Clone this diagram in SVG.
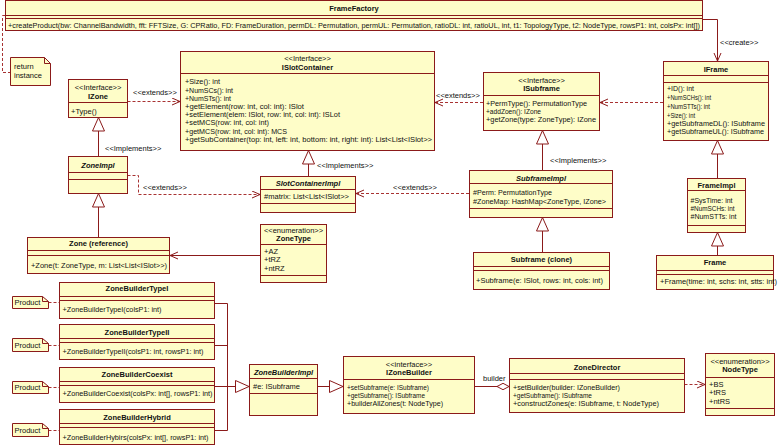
<svg xmlns="http://www.w3.org/2000/svg" width="778" height="446" viewBox="0 0 778 446">
<defs>
<style>
.box{fill:#FEFDC8;stroke:#8B1A1A;stroke-width:1}
.note{fill:#FEFDC8;stroke:#8B1A1A;stroke-width:1}
.sep{stroke:#8B1A1A;stroke-width:1;fill:none}
text{font-family:"Liberation Sans",Arial,sans-serif;font-size:7.5px;fill:#111}
.t{font-weight:bold;text-anchor:middle}
.ti{font-weight:bold;font-style:italic;text-anchor:middle}
.st{text-anchor:middle}
.ln{fill:none;stroke:#8B1A1A;stroke-width:1}
.dl{fill:none;stroke:#A83232;stroke-width:1;stroke-dasharray:3 2}
</style>
<marker id="open" markerUnits="userSpaceOnUse" markerWidth="10" markerHeight="10" refX="8" refY="4" orient="auto">
<path d="M0,0.5 L8,4 L0,7.5" fill="none" stroke="#8B1A1A" stroke-width="1"/>
</marker>
<marker id="tri" markerUnits="userSpaceOnUse" markerWidth="16" markerHeight="14" refX="14" refY="6.5" orient="auto">
<path d="M0.5,0.5 L14,6.5 L0.5,12.5 Z" fill="#FFFFFF" stroke="#8B1A1A" stroke-width="1"/>
</marker>
<marker id="dia" markerUnits="userSpaceOnUse" markerWidth="14" markerHeight="10" refX="0.5" refY="4" orient="auto">
<path d="M0.5,4 L6.5,0.8 L12.5,4 L6.5,7.2 Z" fill="#FFFFFF" stroke="#8B1A1A" stroke-width="1"/>
</marker>
</defs>

<g id="connectors">
<path class="ln" d="M703,19.5 L717.5,19.5 L717.5,61" marker-end="url(#open)"/>
<text x="720" y="44.5">&lt;&lt;create&gt;&gt;</text>
<path class="dl" d="M5,15.5 L2.5,15.5 L2.5,72.5 L10.5,72.5"/>
<path class="dl" d="M127.5,101.5 L180,101.5" marker-end="url(#open)"/>
<text x="133" y="95">&lt;&lt;extends&gt;&gt;</text>
<path class="dl" d="M483,102.5 L435,102.5" marker-end="url(#open)"/>
<text x="436" y="97.5">&lt;&lt;extends&gt;&gt;</text>
<path class="dl" d="M663,102.5 L600,102.5" marker-end="url(#open)"/>
<path class="ln" d="M98.5,156 L98.5,117.5" marker-end="url(#tri)"/>
<text x="105" y="150.5">&lt;&lt;Implements&gt;&gt;</text>
<path class="ln" d="M98.5,237 L98.5,193.5" marker-end="url(#tri)"/>
<path class="dl" d="M127.5,175.5 L138.5,175.5 L138.5,194.5 L260,194.5" marker-end="url(#open)"/>
<text x="143" y="189.5">&lt;&lt;extends&gt;&gt;</text>
<path class="ln" d="M260,255.5 L170,255.5" marker-end="url(#open)"/>
<path class="ln" d="M308.5,176 L308.5,150.5" marker-end="url(#tri)"/>
<text x="317" y="168">&lt;&lt;Implements&gt;&gt;</text>
<path class="dl" d="M469,193.5 L356,193.5" marker-end="url(#open)"/>
<text x="393" y="189.8">&lt;&lt;extends&gt;&gt;</text>
<path class="ln" d="M542.5,170 L542.5,130.5" marker-end="url(#tri)"/>
<text x="550" y="163.2">&lt;&lt;Implements&gt;&gt;</text>
<path class="ln" d="M542.5,252 L542.5,217.5" marker-end="url(#tri)"/>
<path class="ln" d="M717.5,178 L717.5,140.5" marker-end="url(#tri)"/>
<path class="ln" d="M717.5,255 L717.5,232.5" marker-end="url(#tri)"/>
<path class="dl" d="M48.5,302.5 L59,302.5"/>
<path class="dl" d="M48.5,345.5 L59,345.5"/>
<path class="dl" d="M48.5,387.5 L59,387.5"/>
<path class="dl" d="M48.5,430.5 L59,430.5"/>
<path class="ln" d="M214.5,303.5 L227.5,303.5 L227.5,430.5 L214.5,430.5 M214.5,345.5 L227.5,345.5"/>
<path class="ln" d="M214.5,386.5 L249,386.5" marker-end="url(#tri)"/>
<path class="ln" d="M317.5,386.5 L343,386.5" marker-end="url(#tri)"/>
<path class="ln" d="M509,386.5 L474.5,386.5" marker-start="url(#dia)"/>
<text x="483" y="381">builder</text>
<path class="dl" d="M684.5,384.5 L705,384.5" marker-end="url(#open)"/>
</g>

<g id="FrameFactory">
<rect class="box" x="5.5" y="0.5" width="697" height="30"/>
<path class="sep" d="M5.5,15.5 H702.5 M5.5,18.5 H702.5"/>
<text class="t" x="354" y="10.5">FrameFactory</text>
<text x="8" y="27.5" textLength="692" lengthAdjust="spacingAndGlyphs">+createProduct(bw: ChannelBandwidth, fft: FFTSize, G: CPRatio, FD: FrameDuration, permDL: Permutation, permUL: Permutation, ratioDL: int, ratioUL, int, t1: TopologyType, t2: NodeType, rowsP1: int, colsPx: int[])</text>
</g>

<g id="note-return">
<path class="note" d="M10.5,57.5 L44.5,57.5 L50.5,63.5 L50.5,85.5 L10.5,85.5 Z"/>
<path class="sep" d="M44.5,57.5 L44.5,63.5 L50.5,63.5"/>
<text x="14" y="68.5">return</text>
<text x="14" y="77.5">instance</text>
</g>

<g id="IZone">
<rect class="box" x="68.5" y="79.5" width="59" height="38"/>
<path class="sep" d="M68.5,102.5 H127.5"/>
<text class="st" x="98" y="89.5">&lt;&lt;Interface&gt;&gt;</text>
<text class="t" x="98" y="98.5">IZone</text>
<text x="71" y="113.5">+Type()</text>
</g>

<g id="ZoneImpl">
<rect class="box" x="68.5" y="156.5" width="59" height="37"/>
<path class="sep" d="M68.5,172.5 H127.5 M68.5,179.5 H127.5"/>
<text class="ti" x="98" y="167.5">ZoneImpl</text>
</g>

<g id="ZoneReference">
<rect class="box" x="27.5" y="237.5" width="142" height="36"/>
<path class="sep" d="M27.5,250.5 H169.5 M27.5,255.5 H169.5"/>
<text class="t" x="98.5" y="245.8">Zone (reference)</text>
<text x="31" y="267.5" textLength="136" lengthAdjust="spacingAndGlyphs">+Zone(t: ZoneType, m: List&lt;List&lt;ISlot&gt;&gt;)</text>
</g>

<g id="ZoneType">
<rect class="box" x="260.5" y="224.5" width="66" height="58"/>
<path class="sep" d="M260.5,244.5 H326.5 M260.5,275.5 H326.5"/>
<text class="st" x="293.5" y="232.5">&lt;&lt;enumeration&gt;&gt;</text>
<text class="t" x="293.5" y="240.5">ZoneType</text>
<text x="264" y="254">+AZ</text>
<text x="264" y="262.3">+tRZ</text>
<text x="264" y="270.5">+ntRZ</text>
</g>

<g id="ISlotContainer">
<rect class="box" x="180.5" y="51.5" width="254" height="99"/>
<path class="sep" d="M180.5,73.5 H434.5"/>
<text class="st" x="307.5" y="60.5">&lt;&lt;Interface&gt;&gt;</text>
<text class="t" x="307.5" y="69.5">ISlotContainer</text>
<text x="185" y="84.2" textLength="35" lengthAdjust="spacingAndGlyphs">+Size(): int</text>
<text x="185" y="92.5" textLength="48" lengthAdjust="spacingAndGlyphs">+NumSCs(): int</text>
<text x="185" y="100.7" textLength="46" lengthAdjust="spacingAndGlyphs">+NumSTs(): int</text>
<text x="185" y="108.9" textLength="119" lengthAdjust="spacingAndGlyphs">+getElement(row: int, col: int): ISlot</text>
<text x="185" y="117.2" textLength="155" lengthAdjust="spacingAndGlyphs">+setElement(elem: ISlot, row: int, col: int): ISLot</text>
<text x="185" y="125.4" textLength="84" lengthAdjust="spacingAndGlyphs">+setMCS(row: int, col: int)</text>
<text x="185" y="133.6" textLength="102" lengthAdjust="spacingAndGlyphs">+getMCS(row: int, col: int): MCS</text>
<text x="185" y="141.9" textLength="247" lengthAdjust="spacingAndGlyphs">+getSubContainer(top: int, left: int, bottom: int, right: int): List&lt;List&lt;ISlot&gt;&gt;</text>
</g>

<g id="ISubframe">
<rect class="box" x="483.5" y="72.5" width="116" height="58"/>
<path class="sep" d="M483.5,95.5 H599.5"/>
<text class="st" x="541.5" y="82.5">&lt;&lt;Interface&gt;&gt;</text>
<text class="t" x="541.5" y="90.8">ISubframe</text>
<text x="486" y="105.8" textLength="101" lengthAdjust="spacingAndGlyphs">+PermType(): PermutationType</text>
<text x="486" y="113.5" textLength="55" lengthAdjust="spacingAndGlyphs">+addZoen(): IZone</text>
<text x="486" y="121.8" textLength="110" lengthAdjust="spacingAndGlyphs">+getZone(type: ZoneType): IZone</text>
</g>

<g id="IFrame">
<rect class="box" x="663.5" y="61.5" width="105" height="79"/>
<path class="sep" d="M663.5,75.5 H768.5 M663.5,82.5 H768.5"/>
<text class="t" x="716" y="71.8">IFrame</text>
<text x="667" y="90.8" textLength="27" lengthAdjust="spacingAndGlyphs">+ID(): int</text>
<text x="667" y="99.8" textLength="44" lengthAdjust="spacingAndGlyphs">+NumSCHs(): int</text>
<text x="667" y="108.5" textLength="43" lengthAdjust="spacingAndGlyphs">+NumSTTs(): int</text>
<text x="667" y="117.5" textLength="28" lengthAdjust="spacingAndGlyphs">+Size(): int</text>
<text x="667" y="125.8" textLength="98" lengthAdjust="spacingAndGlyphs">+getSubframeDL(): ISubframe</text>
<text x="667" y="134.2" textLength="97" lengthAdjust="spacingAndGlyphs">+getSubframeUL(): ISubframe</text>
</g>

<g id="FrameImpl">
<rect class="box" x="687.5" y="178.5" width="58" height="54"/>
<path class="sep" d="M687.5,190.5 H745.5 M687.5,225.5 H745.5"/>
<text class="t" x="716.5" y="187.5">FrameImpl</text>
<text x="690.5" y="202.5" textLength="42" lengthAdjust="spacingAndGlyphs">#SysTime: int</text>
<text x="690.5" y="210.8" textLength="44" lengthAdjust="spacingAndGlyphs">#NumSCHs: int</text>
<text x="690.5" y="219.2" textLength="46" lengthAdjust="spacingAndGlyphs">#NumSTTs: int</text>
</g>

<g id="Frame">
<rect class="box" x="656.5" y="255.5" width="117" height="34"/>
<path class="sep" d="M656.5,270.5 H773.5 M656.5,274.5 H773.5"/>
<text class="t" x="715" y="265.2">Frame</text>
<text x="660" y="284">+Frame(time: int, schs: int, stts: int)</text>
</g>

<g id="SubframeImpl">
<rect class="box" x="469.5" y="170.5" width="143" height="47"/>
<path class="sep" d="M469.5,183.5 H612.5 M469.5,208.5 H612.5"/>
<text class="ti" x="541" y="180.8">SubframeImpl</text>
<text x="473" y="195.2" textLength="79" lengthAdjust="spacingAndGlyphs">#Perm: PermutationType</text>
<text x="473" y="203.5" textLength="133" lengthAdjust="spacingAndGlyphs">#ZoneMap: HashMap&lt;ZoneType, IZone&gt;</text>
</g>

<g id="SubframeClone">
<rect class="box" x="473.5" y="252.5" width="136" height="37"/>
<path class="sep" d="M473.5,266.5 H609.5 M473.5,270.5 H609.5"/>
<text class="t" x="541.5" y="261.8">Subframe (clone)</text>
<text x="476" y="283">+Subframe(e: ISlot, rows: int, cols: int)</text>
</g>

<g id="SlotContainerImpl">
<rect class="box" x="260.5" y="176.5" width="95" height="36"/>
<path class="sep" d="M260.5,189.5 H355.5 M260.5,203.5 H355.5"/>
<text class="ti" x="308" y="185.8">SlotContainerImpl</text>
<text x="264" y="199.2" textLength="85" lengthAdjust="spacingAndGlyphs">#matrix: List&lt;List&lt;ISlot&gt;&gt;</text>
</g>

<g id="ZoneBuilderTypeI">
<rect class="box" x="59.5" y="282.5" width="155" height="36"/>
<path class="sep" d="M59.5,296.5 H214.5 M59.5,300.5 H214.5"/>
<text class="t" x="137" y="290.5">ZoneBuilderTypeI</text>
<text x="62.5" y="311.5" textLength="99" lengthAdjust="spacingAndGlyphs">+ZoneBuilderTypeI(colsP1: int)</text>
</g>
<g id="ZoneBuilderTypeII">
<rect class="box" x="59.5" y="324.5" width="155" height="35"/>
<path class="sep" d="M59.5,338.5 H214.5 M59.5,342.5 H214.5"/>
<text class="t" x="137" y="334.5">ZoneBuilderTypeII</text>
<text x="62.5" y="353.5" textLength="141" lengthAdjust="spacingAndGlyphs">+ZoneBuilderTypeII(colsP1: int, rowsP1: int)</text>
</g>
<g id="ZoneBuilderCoexist">
<rect class="box" x="59.5" y="367.5" width="155" height="35"/>
<path class="sep" d="M59.5,381.5 H214.5 M59.5,385.5 H214.5"/>
<text class="t" x="137" y="376.5">ZoneBuilderCoexist</text>
<text x="62.5" y="395.5" textLength="150" lengthAdjust="spacingAndGlyphs">+ZoneBuilderCoexist(colsPx: int[], rowsP1: int)</text>
</g>
<g id="ZoneBuilderHybrid">
<rect class="box" x="59.5" y="409.5" width="155" height="35"/>
<path class="sep" d="M59.5,423.5 H214.5 M59.5,427.5 H214.5"/>
<text class="t" x="137" y="419.5">ZoneBuilderHybrid</text>
<text x="62.5" y="439.5" textLength="146" lengthAdjust="spacingAndGlyphs">+ZoneBuilderHybirs(colsPx: int[], rowsP1: int)</text>
</g>

<g id="note-product-1">
<path class="note" d="M12.5,296.5 L42.5,296.5 L48.5,301.5 L48.5,308.5 L12.5,308.5 Z"/>
<path class="sep" d="M42.5,296.5 L42.5,301.5 L48.5,301.5"/>
<text x="14.5" y="305">Product</text>
</g>
<g id="note-product-2">
<path class="note" d="M12.5,338.5 L42.5,338.5 L48.5,343.5 L48.5,351.5 L12.5,351.5 Z"/>
<path class="sep" d="M42.5,338.5 L42.5,343.5 L48.5,343.5"/>
<text x="14.5" y="347.5">Product</text>
</g>
<g id="note-product-3">
<path class="note" d="M12.5,381.5 L42.5,381.5 L48.5,386.5 L48.5,393.5 L12.5,393.5 Z"/>
<path class="sep" d="M42.5,381.5 L42.5,386.5 L48.5,386.5"/>
<text x="14.5" y="390">Product</text>
</g>
<g id="note-product-4">
<path class="note" d="M12.5,423.5 L42.5,423.5 L48.5,428.5 L48.5,436.5 L12.5,436.5 Z"/>
<path class="sep" d="M42.5,423.5 L42.5,428.5 L48.5,428.5"/>
<text x="14.5" y="432.5">Product</text>
</g>

<g id="ZoneBuilderImpl">
<rect class="box" x="249.5" y="364.5" width="68" height="51"/>
<path class="sep" d="M249.5,378.5 H317.5 M249.5,393.5 H317.5"/>
<text class="ti" x="283.5" y="374.5">ZoneBuilderImpl</text>
<text x="253" y="388.5" textLength="47" lengthAdjust="spacingAndGlyphs">#e: ISubframe</text>
</g>

<g id="IZoneBuilder">
<rect class="box" x="343.5" y="356.5" width="131" height="57"/>
<path class="sep" d="M343.5,379.5 H474.5"/>
<text class="st" x="409" y="366.5">&lt;&lt;interface&gt;&gt;</text>
<text class="t" x="409" y="374.5">IZoneBuilder</text>
<text x="347" y="389.5" textLength="82" lengthAdjust="spacingAndGlyphs">+setSubframe(e: ISubframe)</text>
<text x="347" y="397.5" textLength="78" lengthAdjust="spacingAndGlyphs">+getSubframe(): ISubframe</text>
<text x="347" y="405.5" textLength="96" lengthAdjust="spacingAndGlyphs">+builderAllZones(t: NodeType)</text>
</g>

<g id="ZoneDirector">
<rect class="box" x="509.5" y="358.5" width="175" height="54"/>
<path class="sep" d="M509.5,373.5 H684.5 M509.5,379.5 H684.5"/>
<text class="t" x="597" y="369.5">ZoneDirector</text>
<text x="513" y="389.5" textLength="107" lengthAdjust="spacingAndGlyphs">+setBuilder(builder: IZoneBuilder)</text>
<text x="513" y="397.5" textLength="79" lengthAdjust="spacingAndGlyphs">+getSubframe(): ISubframe</text>
<text x="513" y="405.5" textLength="146" lengthAdjust="spacingAndGlyphs">+constructZones(e: ISubframe, t: NodeType)</text>
</g>

<g id="NodeType">
<rect class="box" x="705.5" y="353.5" width="69" height="62"/>
<path class="sep" d="M705.5,377.5 H774.5 M705.5,408.5 H774.5"/>
<text class="st" x="740" y="363.5">&lt;&lt;enumeration&gt;&gt;</text>
<text class="t" x="740" y="371.5">NodeType</text>
<text x="709" y="386.5">+BS</text>
<text x="709" y="395">+tRS</text>
<text x="709" y="403.5">+ntRS</text>
</g>
</svg>
